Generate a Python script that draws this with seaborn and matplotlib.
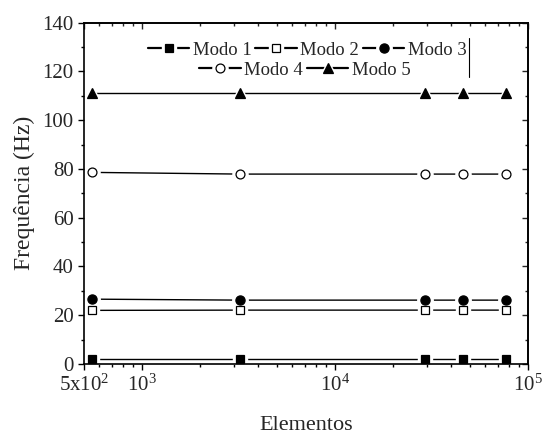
import matplotlib
matplotlib.use("Agg")
import matplotlib.pyplot as plt
import seaborn as sns
from matplotlib.lines import Line2D
from matplotlib.ticker import FixedLocator, FixedFormatter, LogLocator, MultipleLocator, NullFormatter

# data
elementos = [550, 3230, 29200, 46200, 76500]
modo1 = [2.0, 2.0, 2.0, 2.0, 2.0]
modo2 = [22.0, 22.1, 22.1, 22.1, 22.1]
modo3 = [26.6, 26.2, 26.2, 26.2, 26.2]
modo4 = [78.6, 77.9, 77.9, 77.9, 77.9]
modo5 = [111.0, 111.0, 111.0, 111.0, 111.0]
nomes = ["Modo 1", "Modo 2", "Modo 3", "Modo 4", "Modo 5"]

xtick_vals = [500, 1000, 10000, 100000]
xtick_labels = [r"$5\mathrm{x}10^{2}$", r"$10^{3}$", r"$10^{4}$", r"$10^{5}$"]

sns.set_theme(style="ticks")
plt.rcParams["font.family"] = ["Liberation Serif", "DejaVu Serif"]
plt.rcParams["mathtext.fontset"] = "custom"
plt.rcParams["mathtext.rm"] = "Liberation Serif"
plt.rcParams["mathtext.it"] = "Liberation Serif:italic"

fig = plt.figure(figsize=(5.42, 4.37), dpi=100)
ax = fig.add_axes([84 / 542, 1 - 364 / 437, 444 / 542, 341.3 / 437])
ax.set_xscale("log")

# (values, marker, face colour, size)
estilos = [
    (modo1, "s", "black", 6.2),
    (modo2, "s", "white", 6.0),
    (modo3, "o", "black", 6.6),
    (modo4, "o", "white", 6.4),
    (modo5, "^", "black", 7.6),
]

handles = []
for (vals, mk, fc, ms), nome in zip(estilos, nomes):
    sns.lineplot(x=elementos, y=vals, ax=ax, color="black", linewidth=1.0, zorder=1)
    # white halo so the line stops short of each marker
    ax.plot(elementos, vals, ls="none", marker=mk, ms=ms + 4.5, mfc="white", mec="white", zorder=2)
    ax.plot(elementos, vals, ls="none", marker=mk, ms=ms, mfc=fc, mec="black", mew=0.9, zorder=3)
    h_line = Line2D([], [], color="black", linewidth=1.6)
    h_halo = Line2D([], [], ls="none", marker=mk, ms=ms + 4.5, mfc="white", mec="white")
    h_mark = Line2D([], [], ls="none", marker=mk, ms=ms, mfc=fc, mec="black", mew=0.9)
    handles.append((h_line, h_halo, h_mark))

ax.set_xlim(500, 100000)
ax.set_ylim(0, 140)

ax.xaxis.set_major_locator(FixedLocator(xtick_vals))
ax.xaxis.set_major_formatter(FixedFormatter(xtick_labels))
ax.xaxis.set_minor_locator(LogLocator(base=10, subs=range(2, 10)))
ax.xaxis.set_minor_formatter(NullFormatter())
ax.yaxis.set_major_locator(MultipleLocator(20))
ax.yaxis.set_minor_locator(MultipleLocator(10))

ax.tick_params(which="major", direction="out", length=4.5, width=1, labelsize=15, pad=3, color="black")
ax.tick_params(which="minor", direction="out", length=2.5, width=1, color="black")

# top and right ticks point inwards
top = ax.secondary_xaxis("top")
top.xaxis.set_major_locator(FixedLocator(xtick_vals))
top.xaxis.set_minor_locator(LogLocator(base=10, subs=range(2, 10)))
top.tick_params(which="major", direction="in", length=4.5, width=1, labeltop=False)
top.tick_params(which="minor", direction="in", length=2.5, width=1)
right = ax.secondary_yaxis("right")
right.yaxis.set_major_locator(MultipleLocator(20))
right.yaxis.set_minor_locator(MultipleLocator(10))
right.tick_params(which="major", direction="in", length=4.5, width=1, labelright=False)
right.tick_params(which="minor", direction="in", length=2.5, width=1)

for sp in list(ax.spines.values()) + [top.spines["top"], right.spines["right"]]:
    sp.set_color("black")
    sp.set_linewidth(1.2)

ax.set_xlabel("Elementos", fontsize=16, labelpad=15)
ax.set_ylabel("Frequência (Hz)", fontsize=17, labelpad=5)

leg_kw = dict(frameon=False, fontsize=13.5, handlelength=2.2, handletextpad=0.2,
              columnspacing=0.2, numpoints=1, borderpad=0, labelspacing=0.2)
leg1 = ax.legend(handles[:3], nomes[:3], ncol=3, loc="center",
                 bbox_to_anchor=(0.503, 0.92), **leg_kw)
ax.add_artist(leg1)
ax.legend(handles[3:], nomes[3:], ncol=2, loc="center",
          bbox_to_anchor=(0.498, 0.86), **leg_kw)

# stray frame edge next to the legend
ax.plot([0.867, 0.867], [0.841, 0.955], transform=ax.transAxes, color="black", linewidth=0.8)

fig.savefig("out.png", dpi=100)
